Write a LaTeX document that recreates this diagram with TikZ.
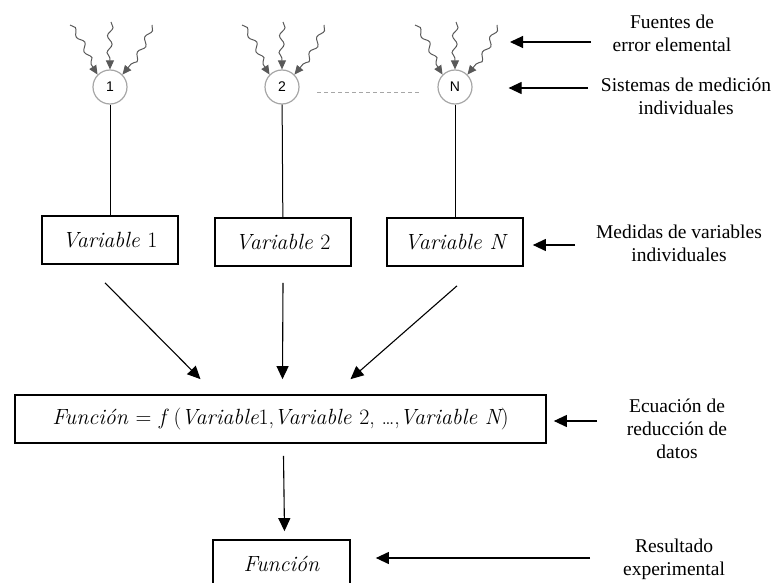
\documentclass[tikz,border=0pt]{standalone}
\usepackage{fontspec}
\newfontfamily\labelfont{Liberation Serif}
\newfontfamily\numfont{Liberation Sans}
\usetikzlibrary{arrows.meta, decorations.pathmorphing, positioning}

\tikzset{
  varbox/.style={draw, line width=1.7pt, minimum width=136pt, minimum height=48pt, inner sep=2pt, font=\fontsize{22}{26}\selectfont\itshape},
  sysnode/.style={circle, draw=gray!70, line width=1.2pt, minimum size=34pt, inner sep=0pt, font=\numfont\fontsize{14}{15}\selectfont},
  flow/.style={-{Triangle[length=13pt,width=12pt]}, line width=1.1pt},
  source/.style={-{Triangle[length=9pt,width=8pt]}, draw=black!65, line width=1pt, decorate,
    decoration={snake, amplitude=2.5pt, segment length=17pt, post length=9pt}},
  note/.style={align=center, font=\labelfont\fontsize{19.5}{23}\selectfont},
}

\begin{document}
\begin{tikzpicture}[x=1pt, y=-1pt]
  \useasboundingbox (0,0) rectangle (776,583);
  \clip (0,0) rectangle (776,583);

  % Measurement systems
  \node[sysnode] (s1) at (110,87) {1};
  \node[sysnode] (s2) at (282,87) {2};
  \node[sysnode] (sN) at (455,87) {N};
  \draw[gray!70, dashed, dash pattern=on 4pt off 3pt, line width=1pt] ([xshift=35pt,yshift=-6pt]s2.center) -- ([xshift=-35pt,yshift=-6pt]sN.center);

  % Elemental error sources
  \foreach \s in {s1,s2,sN} {
    \draw[source] ([shift={(-40pt,62pt)}]\s.center) to[out=-50, in=125] (\s.north west);
    \draw[source] ([shift={(1pt,65pt)}]\s.center) to[out=-95, in=90] (\s.north);
    \draw[source] ([shift={(42pt,62pt)}]\s.center) to[out=-110, in=50] (\s.north east);
  }

  % Individual variables
  \node[varbox] (v1) at (110,240) {Variable \upshape 1};
  \node[varbox] (v2) at (283,242) {Variable \upshape 2};
  \node[varbox] (vN) at (455,242) {Variable N};
  \draw[line width=1pt] (s1) -- (v1);
  \draw[line width=1pt] (s2) -- (v2);
  \draw[line width=1pt] (sN) -- (vN);

  % Data reduction equation
  \node[varbox, minimum width=531pt] (fn) at (280.5,419)
    {Función {\upshape =} f {\upshape (}Variable{\upshape 1,}Variable {\upshape 2, \ldots,}Variable N{\upshape )}};
  \draw[flow] ([xshift=-5pt,yshift=-18pt]v1.south) -- ([xshift=-80pt,yshift=15pt]fn.north);
  \draw[flow] ([yshift=-16pt]v2.south) -- ([xshift=2pt,yshift=15pt]fn.north);
  \draw[flow] ([xshift=2pt,yshift=-19pt]vN.south) -- ([xshift=70pt,yshift=15pt]fn.north);

  % Experimental result
  \node[varbox, minimum width=137pt] (res) at (281.5,564) {Función};
  \draw[flow] ([xshift=3pt,yshift=-12pt]fn.south) -- ([xshift=3pt,yshift=8pt]res.north);

  % Labels
  \node[note] (lab1) at (672,33) {Fuentes de\\error elemental};
  \node[note] (lab2) at (686,96) {Sistemas de medición\\individuales};
  \node[note] (lab3) at (679,243) {Medidas de variables\\individuales};
  \node[note] (lab4) at (677,429) {Ecuación de\\reducción de\\datos};
  \node[note] (lab5) at (674,559) {Resultado\\experimental};
  \coordinate (t1) at (591,42);
  \coordinate (e1) at (510,42);
  \coordinate (t2) at (588,88);
  \coordinate (t3) at (575,245);
  \coordinate (t4) at (597,421);
  \coordinate (t5) at (590,558);
  \draw[flow] (t1) -- (e1);
  \draw[flow] (t2) -- ([xshift=36pt]sN.east |- t2);
  \draw[flow] (t3) -- ([xshift=9pt]vN.east |- t3);
  \draw[flow] (t4) -- ([xshift=7pt]fn.east |- t4);
  \draw[flow] (t5) -- ([xshift=25pt]res.east |- t5);
\end{tikzpicture}
\end{document}
